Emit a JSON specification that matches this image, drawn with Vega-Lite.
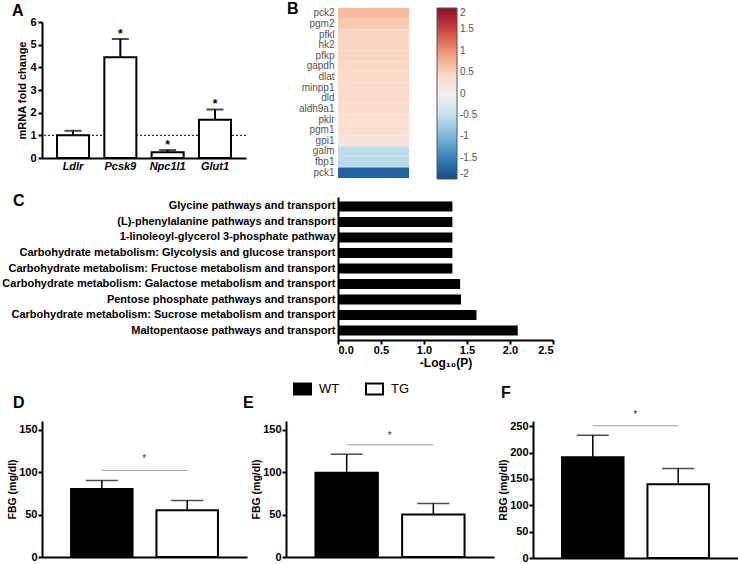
{
  "$schema": "https://vega.github.io/schema/vega-lite/v6.json",
  "padding": {"left": 1, "top": 0, "right": 0, "bottom": 0},
  "spacing": 11,
  "resolve": {"scale": {"color": "independent", "fill": "independent"}, "legend": {"color": "independent", "fill": "independent"}},
  "config": {
    "font": "Liberation Sans",
    "view": {"stroke": null},
    "axis": {"domainColor": "black", "domainWidth": 2, "tickColor": "black", "tickWidth": 2, "labelColor": "black", "labelFontSize": 11, "labelFontWeight": "bold", "titleFontSize": 11, "titleFontWeight": "bold", "titleColor": "black", "grid": false, "labelFont": "Liberation Sans", "titleFont": "Liberation Sans", "labelOverlap": false},
    "title": {"anchor": "start", "fontSize": 16, "fontWeight": "bold", "color": "black", "frame": "group", "baseline": "alphabetic"},
    "legend": {"labelFont": "Liberation Sans"}
  },
  "vconcat": [
    {
      "hconcat": [
        {
          "vconcat": [
            {"width": 1, "height": 14, "data": {"values": [{}]}, "mark": {"type": "text", "text": ""}, "encoding": {}},
            {
              "width": 204, "height": 136,
              "title": {"text": "A", "dx": -30, "offset": -3},
              "layer": [
                {
                  "data": {"values": [{"ref": 1}]},
                  "mark": {"type": "rule", "strokeDash": [2, 2], "strokeWidth": 1, "color": "black"},
                  "encoding": {"y": {"field": "ref", "type": "quantitative", "scale": {"domain": [0, 6]}, "axis": {"title": "mRNA fold change", "values": [0, 1, 2, 3, 4, 5, 6], "tickCount": 7, "tickSize": 4, "labelPadding": 2, "titlePadding": 2}}}
                },
                {
                  "data": {"values": [
                    {"gene": "Ldlr", "fc": 1.0, "err": 1.2, "sig": ""},
                    {"gene": "Pcsk9", "fc": 4.45, "err": 5.25, "sig": "*"},
                    {"gene": "Npc1l1", "fc": 0.25, "err": 0.35, "sig": "*"},
                    {"gene": "Glut1", "fc": 1.69, "err": 2.14, "sig": "*"}
                  ]},
                  "encoding": {
                    "x": {"field": "gene", "type": "nominal", "sort": null, "scale": {"paddingInner": 0.323, "paddingOuter": 0.317}, "axis": {"title": null, "labelAngle": 0, "ticks": false, "labelFontStyle": "italic", "labelPadding": 2}}
                  },
                  "layer": [
                    {"mark": {"type": "bar", "fill": "white", "stroke": "black", "strokeWidth": 2},
                     "encoding": {"y": {"field": "fc", "type": "quantitative", "axis": {"title": "mRNA fold change", "values": [0, 1, 2, 3, 4, 5, 6], "tickCount": 7, "tickSize": 4, "labelPadding": 2, "titlePadding": 2}}}},
                    {"mark": {"type": "rule", "strokeWidth": 2, "color": "black"},
                     "encoding": {"y": {"field": "fc", "type": "quantitative", "axis": {"title": "mRNA fold change", "values": [0, 1, 2, 3, 4, 5, 6], "tickCount": 7, "tickSize": 4, "labelPadding": 2, "titlePadding": 2}}, "y2": {"field": "err"}}},
                    {"mark": {"type": "tick", "thickness": 2, "size": 17, "color": "black"},
                     "encoding": {"y": {"field": "err", "type": "quantitative", "axis": {"title": "mRNA fold change", "values": [0, 1, 2, 3, 4, 5, 6], "tickCount": 7, "tickSize": 4, "labelPadding": 2, "titlePadding": 2}}}},
                    {"mark": {"type": "text", "fontWeight": "bold", "fontSize": 12, "baseline": "alphabetic", "dy": -1},
                     "encoding": {"y": {"field": "err", "type": "quantitative", "axis": {"title": "mRNA fold change", "values": [0, 1, 2, 3, 4, 5, 6], "tickCount": 7, "tickSize": 4, "labelPadding": 2, "titlePadding": 2}}, "text": {"field": "sig"}}}
                  ]
                }
              ]
            }
          ],
          "spacing": 0,
          "bounds": "flush"
        },
        {
          "vconcat": [
            {
              "width": 71, "height": 170,
              "title": {"text": "B", "dx": -51, "offset": -9},
              "data": {"values": [
                {"gene": "pck2", "value": 0.68},
                {"gene": "pgm2", "value": 0.55},
                {"gene": "pfkl", "value": 0.46},
                {"gene": "hk2", "value": 0.45},
                {"gene": "pfkp", "value": 0.44},
                {"gene": "gapdh", "value": 0.43},
                {"gene": "dlat", "value": 0.41},
                {"gene": "minpp1", "value": 0.4},
                {"gene": "dld", "value": 0.38},
                {"gene": "aldh9a1", "value": 0.36},
                {"gene": "pklr", "value": 0.34},
                {"gene": "pgm1", "value": 0.31},
                {"gene": "gpi1", "value": 0.22},
                {"gene": "galm", "value": -0.55},
                {"gene": "fbp1", "value": -0.57},
                {"gene": "pck1", "value": -1.8}
              ]},
              "mark": {"type": "rect"},
              "encoding": {
                "y": {"field": "gene", "type": "nominal", "sort": null, "scale": {"paddingInner": 0, "paddingOuter": 0}, "axis": {"title": null, "ticks": false, "domain": false, "labelFontWeight": "normal", "labelColor": "#555555", "labelFontSize": 10, "labelPadding": 4}},
                "color": {"field": "value", "type": "quantitative", "scale": {"domain": [-2, 2], "scheme": "redblue", "reverse": true},
                  "legend": {"title": null, "orient": "right", "offset": 28, "direction": "vertical", "gradientLength": 171, "gradientThickness": 20, "values": [2, 1.5, 1, 0.5, 0, -0.5, -1, -1.5, -2], "labelExpr": "toString(datum.value)", "labelColor": "#555555", "labelFontSize": 10, "labelOverlap": false, "gradientStrokeColor": "#555555", "gradientStrokeWidth": 1, "labelOffset": 3}}
              }
            },
            {
              "width": 215, "height": 143,
              "title": {"text": "C", "dx": -325, "offset": -11.5},
              "data": {"values": [
                {"pathway": "Glycine pathways and transport", "logp": 1.33},
                {"pathway": "(L)-phenylalanine pathways and transport", "logp": 1.33},
                {"pathway": "1-linoleoyl-glycerol 3-phosphate pathway", "logp": 1.33},
                {"pathway": "Carbohydrate metabolism: Glycolysis and glucose transport", "logp": 1.33},
                {"pathway": "Carbohydrate metabolism: Fructose metabolism and transport", "logp": 1.33},
                {"pathway": "Carbohydrate metabolism: Galactose metabolism and transport", "logp": 1.42},
                {"pathway": "Pentose phosphate pathways and transport", "logp": 1.43},
                {"pathway": "Carbohydrate metabolism: Sucrose metabolism and transport", "logp": 1.61},
                {"pathway": "Maltopentaose pathways and transport", "logp": 2.09}
              ]},
              "mark": {"type": "bar", "color": "black"},
              "encoding": {
                "y": {"field": "pathway", "type": "nominal", "sort": null, "scale": {"paddingInner": 0.355, "paddingOuter": 0.29}, "axis": {"title": null, "ticks": false, "labelPadding": 3, "labelLimit": 400}},
                "x": {"field": "logp", "type": "quantitative", "scale": {"domain": [0, 2.5]}, "axis": {"title": "-Log₁₀(P)", "values": [0, 0.5, 1, 1.5, 2, 2.5], "format": ".1f", "tickSize": 4, "labelPadding": 0, "titleFontSize": 12, "titlePadding": 2}}
              }
            }
          ],
          "spacing": 19,
          "bounds": "flush",
          "resolve": {"scale": {"color": "independent"}, "legend": {"color": "independent"}}
        }
      ],
      "spacing": 296,
      "bounds": "flush",
      "resolve": {"scale": {"color": "independent"}, "legend": {"color": "independent"}}
    },
    {
      "hconcat": [
        {
          "width": 205, "height": 136,
          "title": {"text": "D", "dx": -29, "offset": 10},
          "layer": [
            {
              "data": {"values": [{"group": "WT", "mean": 80, "err": 90}, {"group": "TG", "mean": 55, "err": 66.5}]},
              "encoding": {"x": {"field": "group", "type": "nominal", "scale": {"domain": ["WT", "TG"], "paddingInner": 0.28, "paddingOuter": 0.34}, "axis": {"title": null, "labels": false, "ticks": false}}},
              "layer": [
                {"mark": {"type": "bar", "stroke": "black", "strokeWidth": 2},
                 "encoding": {"y": {"field": "mean", "type": "quantitative", "scale": {"domain": [0, 150]}, "axis": {"title": "FBG (mg/dl)", "values": [0, 50, 100, 150], "tickSize": 4, "labelPadding": 1, "titlePadding": 1, "titleFontSize": 10.5}},
                   "fill": {"field": "group", "type": "nominal", "scale": {"domain": ["WT", "TG"], "range": ["black", "white"]},
                     "legend": {"title": null, "orient": "none", "legendX": 251, "legendY": -42, "direction": "horizontal", "symbolType": "M-1,-0.65L1,-0.65L1,0.65L-1,0.65Z", "symbolSize": 289, "symbolStrokeColor": "black", "symbolStrokeWidth": 2, "labelFontSize": 13, "labelFontWeight": "normal", "labelColor": "black", "labelOffset": 7, "columnPadding": 22}}}},
                {"mark": {"type": "rule", "strokeWidth": 1.5, "color": "black"},
                 "encoding": {"y": {"field": "mean", "type": "quantitative", "axis": {"title": "FBG (mg/dl)", "values": [0, 50, 100, 150], "tickSize": 4, "labelPadding": 1, "titlePadding": 1, "titleFontSize": 10.5}}, "y2": {"field": "err"}}},
                {"mark": {"type": "tick", "thickness": 1.5, "size": 32, "color": "black"},
                 "encoding": {"y": {"field": "err", "type": "quantitative", "axis": {"title": "FBG (mg/dl)", "values": [0, 50, 100, 150], "tickSize": 4, "labelPadding": 1, "titlePadding": 1, "titleFontSize": 10.5}}}}
              ]
            },
            {
              "data": {"values": [{"from": "WT", "to": "TG", "y": 102, "label": "*"}]},
              "layer": [
                {"mark": {"type": "rule", "color": "#999999", "strokeWidth": 1},
                 "encoding": {"x": {"field": "from", "type": "nominal", "bandPosition": 0.5}, "x2": {"field": "to", "bandPosition": 0.5}, "y": {"field": "y", "type": "quantitative", "axis": {"title": "FBG (mg/dl)", "values": [0, 50, 100, 150], "tickSize": 4, "labelPadding": 1, "titlePadding": 1, "titleFontSize": 10.5}}}},
                {"mark": {"type": "text", "fontSize": 10, "color": "#333333", "baseline": "alphabetic", "dy": -8},
                 "encoding": {"x": {"field": "from", "type": "nominal", "bandPosition": 1.19}, "y": {"field": "y", "type": "quantitative", "axis": {"title": "FBG (mg/dl)", "values": [0, 50, 100, 150], "tickSize": 4, "labelPadding": 1, "titlePadding": 1, "titleFontSize": 10.5}}, "text": {"field": "label"}}}
              ]
            }
          ]
        },
        {
          "width": 208, "height": 136,
          "title": {"text": "E", "dx": -43, "offset": 10},
          "layer": [
            {
              "data": {"values": [{"group": "WT", "mean": 99, "err": 121}, {"group": "TG", "mean": 50, "err": 63}]},
              "encoding": {"x": {"field": "group", "type": "nominal", "scale": {"domain": ["WT", "TG"], "paddingInner": 0.28, "paddingOuter": 0.34}, "axis": {"title": null, "labels": false, "ticks": false}}},
              "layer": [
                {"mark": {"type": "bar", "stroke": "black", "strokeWidth": 2},
                 "encoding": {"y": {"field": "mean", "type": "quantitative", "scale": {"domain": [0, 150]}, "axis": {"title": "FBG (mg/dl)", "values": [0, 50, 100, 150], "tickSize": 4, "labelPadding": 1, "titlePadding": 1, "titleFontSize": 10.5}},
                   "fill": {"field": "group", "type": "nominal", "scale": {"domain": ["WT", "TG"], "range": ["black", "white"]},
                     "legend": {"title": null, "orient": "none", "legendX": 251, "legendY": -42, "direction": "horizontal", "symbolType": "M-1,-0.65L1,-0.65L1,0.65L-1,0.65Z", "symbolSize": 289, "symbolStrokeColor": "black", "symbolStrokeWidth": 2, "labelFontSize": 13, "labelFontWeight": "normal", "labelColor": "black", "labelOffset": 7, "columnPadding": 22}}}},
                {"mark": {"type": "rule", "strokeWidth": 1.5, "color": "black"},
                 "encoding": {"y": {"field": "mean", "type": "quantitative", "axis": {"title": "FBG (mg/dl)", "values": [0, 50, 100, 150], "tickSize": 4, "labelPadding": 1, "titlePadding": 1, "titleFontSize": 10.5}}, "y2": {"field": "err"}}},
                {"mark": {"type": "tick", "thickness": 1.5, "size": 32, "color": "black"},
                 "encoding": {"y": {"field": "err", "type": "quantitative", "axis": {"title": "FBG (mg/dl)", "values": [0, 50, 100, 150], "tickSize": 4, "labelPadding": 1, "titlePadding": 1, "titleFontSize": 10.5}}}}
              ]
            },
            {
              "data": {"values": [{"from": "WT", "to": "TG", "y": 132, "label": "*"}]},
              "layer": [
                {"mark": {"type": "rule", "color": "#999999", "strokeWidth": 1},
                 "encoding": {"x": {"field": "from", "type": "nominal", "bandPosition": 0.5}, "x2": {"field": "to", "bandPosition": 0.5}, "y": {"field": "y", "type": "quantitative", "axis": {"title": "FBG (mg/dl)", "values": [0, 50, 100, 150], "tickSize": 4, "labelPadding": 1, "titlePadding": 1, "titleFontSize": 10.5}}}},
                {"mark": {"type": "text", "fontSize": 10, "color": "#333333", "baseline": "alphabetic", "dy": -6},
                 "encoding": {"x": {"field": "from", "type": "nominal", "bandPosition": 1.19}, "y": {"field": "y", "type": "quantitative", "axis": {"title": "FBG (mg/dl)", "values": [0, 50, 100, 150], "tickSize": 4, "labelPadding": 1, "titlePadding": 1, "titleFontSize": 10.5}}, "text": {"field": "label"}}}
              ]
            }
          ]
        },
        {
          "width": 205, "height": 137,
          "title": {"text": "F", "dx": -32, "offset": 9},
          "layer": [
            {
              "data": {"values": [{"group": "WT", "mean": 191, "err": 233}, {"group": "TG", "mean": 140, "err": 170}]},
              "encoding": {"x": {"field": "group", "type": "nominal", "scale": {"domain": ["WT", "TG"], "paddingInner": 0.28, "paddingOuter": 0.34}, "axis": {"title": null, "labels": false, "ticks": false}}},
              "layer": [
                {"mark": {"type": "bar", "stroke": "black", "strokeWidth": 2},
                 "encoding": {"y": {"field": "mean", "type": "quantitative", "scale": {"domain": [0, 250]}, "axis": {"title": "RBG (mg/dl)", "values": [0, 50, 100, 150, 200, 250], "tickCount": 6, "tickSize": 4, "labelPadding": 1, "titlePadding": 1, "titleFontSize": 10.5}},
                   "fill": {"field": "group", "type": "nominal", "scale": {"domain": ["WT", "TG"], "range": ["black", "white"]},
                     "legend": {"title": null, "orient": "none", "legendX": 251, "legendY": -42, "direction": "horizontal", "symbolType": "M-1,-0.65L1,-0.65L1,0.65L-1,0.65Z", "symbolSize": 289, "symbolStrokeColor": "black", "symbolStrokeWidth": 2, "labelFontSize": 13, "labelFontWeight": "normal", "labelColor": "black", "labelOffset": 7, "columnPadding": 22}}}},
                {"mark": {"type": "rule", "strokeWidth": 1.5, "color": "black"},
                 "encoding": {"y": {"field": "mean", "type": "quantitative", "axis": {"title": "RBG (mg/dl)", "values": [0, 50, 100, 150, 200, 250], "tickCount": 6, "tickSize": 4, "labelPadding": 1, "titlePadding": 1, "titleFontSize": 10.5}}, "y2": {"field": "err"}}},
                {"mark": {"type": "tick", "thickness": 1.5, "size": 32, "color": "black"},
                 "encoding": {"y": {"field": "err", "type": "quantitative", "axis": {"title": "RBG (mg/dl)", "values": [0, 50, 100, 150, 200, 250], "tickCount": 6, "tickSize": 4, "labelPadding": 1, "titlePadding": 1, "titleFontSize": 10.5}}}}
              ]
            },
            {
              "data": {"values": [{"from": "WT", "to": "TG", "y": 251, "label": "*"}]},
              "layer": [
                {"mark": {"type": "rule", "color": "#999999", "strokeWidth": 1},
                 "encoding": {"x": {"field": "from", "type": "nominal", "bandPosition": 0.5}, "x2": {"field": "to", "bandPosition": 0.5}, "y": {"field": "y", "type": "quantitative", "axis": {"title": "RBG (mg/dl)", "values": [0, 50, 100, 150, 200, 250], "tickCount": 6, "tickSize": 4, "labelPadding": 1, "titlePadding": 1, "titleFontSize": 10.5}}}},
                {"mark": {"type": "text", "fontSize": 10, "color": "#333333", "baseline": "alphabetic", "dy": -8},
                 "encoding": {"x": {"field": "from", "type": "nominal", "bandPosition": 1.19}, "y": {"field": "y", "type": "quantitative", "axis": {"title": "RBG (mg/dl)", "values": [0, 50, 100, 150, 200, 250], "tickCount": 6, "tickSize": 4, "labelPadding": 1, "titlePadding": 1, "titleFontSize": 10.5}}, "text": {"field": "label"}}}
              ]
            }
          ]
        }
      ],
      "spacing": 39,
      "bounds": "flush"
    }
  ]
}
